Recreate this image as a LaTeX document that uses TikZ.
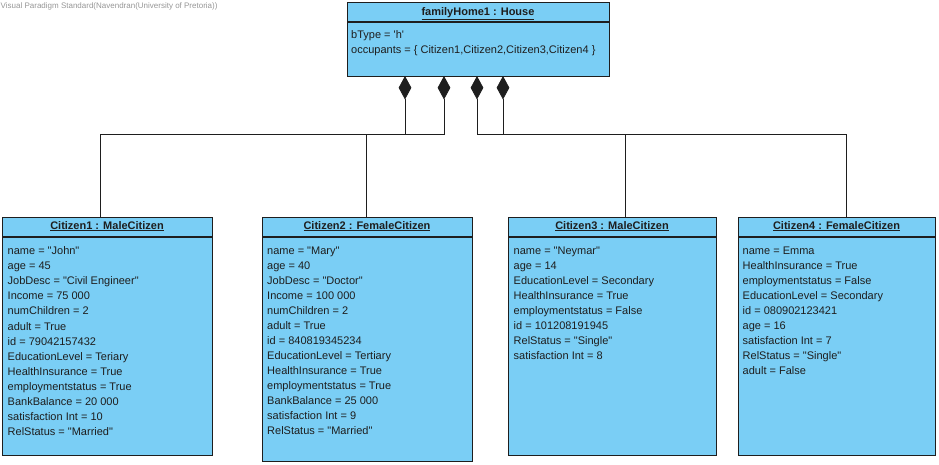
\documentclass[tikz,border=0pt]{standalone}
\usepackage{fontspec}
\setmainfont{Liberation Sans}[Ligatures=TeXOff]
\usetikzlibrary{arrows.meta}
\definecolor{objfill}{RGB}{122,206,245}
\definecolor{objline}{RGB}{30,30,30}
\definecolor{vpgray}{RGB}{150,150,150}

\begin{document}
\begin{tikzpicture}[x=1pt,y=-1pt,
    objbox/.style={draw=objline,line width=1.1pt,fill=objfill,anchor=north west,inner sep=0pt},
    objtitle/.style={anchor=base,inner sep=0pt,text=objline,font=\fontsize{11}{13}\selectfont\bfseries},
    attrs/.style={anchor=north west,align=left,inner sep=0pt,text=objline,font=\fontsize{11}{15.05}\selectfont},
    comp/.style={{Diamond[length=23.5pt,width=12.7pt]}-,line width=0.8pt,draw=objline}]
    \useasboundingbox (0,0) rectangle (939,465);
    \node[anchor=base west,inner sep=0pt,text=vpgray,font=\fontsize{8}{9}\selectfont] (wm) at (0.5,9) {Visual Paradigm Standard(Navendran(University of Pretoria))};

    % house
    \node[objbox,minimum width=262pt,minimum height=74pt] (house) at (347,2) {};
    \draw[objline,line width=1.1pt] (house.north west) ++(0,20) -- ++(262,0);
    \node[objtitle] (houset) at (478,16) {\underline{familyHome1 : House}};
    \node[attrs] (housea) at (351,30.6) {bType = 'h'\\occupants = \{ Citizen1,Citizen2,Citizen3,Citizen4 \}};

    % citizens
    \node[objbox,minimum width=210pt,minimum height=238pt] (c1) at (2,217) {};
    \draw[objline,line width=1.1pt] (c1.north west) ++(0,20) -- ++(210,0);
    \node[objtitle] (c1t) at (107,229) {\underline{Citizen1 : MaleCitizen}};
    \node[attrs] (c1a) at (7.5,246.6) {name = "John"\\age = 45\\JobDesc = "Civil Engineer"\\Income = 75 000\\numChildren = 2\\adult = True\\id = 79042157432\\EducationLevel = Teriary\\HealthInsurance = True\\employmentstatus = True\\BankBalance = 20 000\\satisfaction Int = 10\\RelStatus = "Married"};

    \node[objbox,minimum width=210pt,minimum height=244pt] (c2) at (262,217) {};
    \draw[objline,line width=1.1pt] (c2.north west) ++(0,20) -- ++(210,0);
    \node[objtitle] (c2t) at (367,229) {\underline{Citizen2 : FemaleCitizen}};
    \node[attrs] (c2a) at (267,246.6) {name = "Mary"\\age = 40\\JobDesc = "Doctor"\\Income = 100 000\\numChildren = 2\\adult = True\\id = 840819345234\\EducationLevel = Tertiary\\HealthInsurance = True\\employmentstatus = True\\BankBalance = 25 000\\satisfaction Int = 9\\RelStatus = "Married"};

    \node[objbox,minimum width=208pt,minimum height=238pt] (c3) at (508,217) {};
    \draw[objline,line width=1.1pt] (c3.north west) ++(0,20) -- ++(208,0);
    \node[objtitle] (c3t) at (612,229) {\underline{Citizen3 : MaleCitizen}};
    \node[attrs] (c3a) at (513.5,246.6) {name = "Neymar"\\age = 14\\EducationLevel = Secondary\\HealthInsurance = True\\employmentstatus = False\\id = 101208191945\\RelStatus = "Single"\\satisfaction Int = 8};

    \node[objbox,minimum width=197pt,minimum height=238pt] (c4) at (738,217) {};
    \draw[objline,line width=1.1pt] (c4.north west) ++(0,20) -- ++(197,0);
    \node[objtitle] (c4t) at (836.5,229) {\underline{Citizen4 : FemaleCitizen}};
    \node[attrs] (c4a) at (742.5,246.6) {name = Emma\\HealthInsurance = True\\employmentstatus = False\\EducationLevel = Secondary\\id = 080902123421\\age = 16\\satisfaction Int = 7\\RelStatus = "Single"\\adult = False};

    % composition ends
    \coordinate (h1) at (405,76);
    \coordinate (h2) at (444,76);
    \coordinate (h3) at (477,76);
    \coordinate (h4) at (503,76);
    \coordinate (e1) at (100,217);
    \coordinate (e2) at (366,217);
    \coordinate (e3) at (625,217);
    \coordinate (e4) at (846,217);
    \draw[comp] (h1) -- ++(0,58) -| (e1);
    \draw[comp] (h2) -- ++(0,58) -| (e2);
    \draw[comp] (h3) -- ++(0,58) -| (e3);
    \draw[comp] (h4) -- ++(0,58) -| (e4);
\end{tikzpicture}
\end{document}
